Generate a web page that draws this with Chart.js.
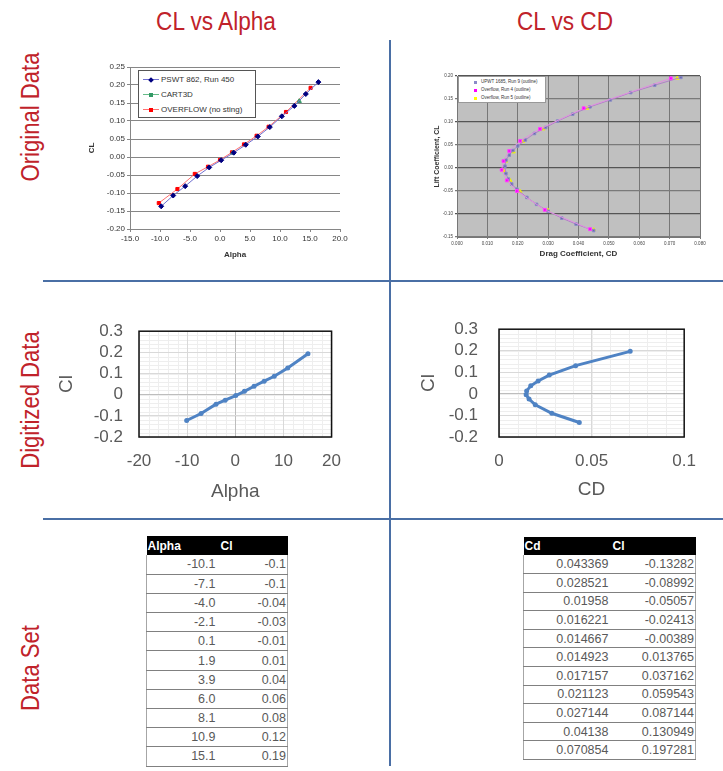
<!DOCTYPE html>
<html>
<head>
<meta charset="utf-8">
<script src="https://cdn.jsdelivr.net/npm/chart.js@4.4.1/dist/chart.umd.min.js"></script>
<style>
    body { margin: 0; width: 723px; height: 771px; background: #fff; position: relative; overflow: hidden; font-family: "Liberation Sans", Arial, sans-serif; }
    .head { position: absolute; color: #c0222a; font-size: 26px; white-space: nowrap; line-height: 1; }
    .side { position: absolute; color: #c0222a; font-size: 26px; white-space: nowrap; line-height: 1; }
    .rule { position: absolute; background: #4a6fa5; }
    .box { position: absolute; }
    .legend { position: absolute; background: #fff; border: 1px solid #555; box-sizing: border-box; color: #333; }
    .legend div { position: absolute; white-space: nowrap; }
    .legend i { position: absolute; display: block; }
    table { position: absolute; border-collapse: collapse; font-size: 12.5px; color: #595959; }
    th { background: #000; color: #fff; font-weight: bold; text-align: left; font-size: 12px; padding: 0 0 0 1px; }
    td { text-align: right; border-bottom: 1px solid #808080; padding: 0; }
    tr td:first-child { border-left: 1px solid #a6a6a6; }
    tr td:last-child { border-right: 1px solid #a6a6a6; }
</style>
</head>
<body>

<div class="head" style="left:216px;top:8px;transform:translateX(-50%) scaleX(0.87)">CL vs Alpha</div>
<div class="head" style="left:565px;top:8px;transform:translateX(-50%) scaleX(0.87)">CL vs CD</div>

<div class="side" style="left:30px;top:117px;transform:translate(-50%,-50%) rotate(-90deg) scaleX(0.85)">Original Data</div>
<div class="side" style="left:30px;top:400px;transform:translate(-50%,-50%) rotate(-90deg) scaleX(0.85)">Digitized Data</div>
<div class="side" style="left:30px;top:668px;transform:translate(-50%,-50%) rotate(-90deg) scaleX(0.85)">Data Set</div>

<div class="rule" style="left:389px;top:40px;width:2px;height:726px"></div>
<div class="rule" style="left:43px;top:280px;width:680px;height:2px"></div>
<div class="rule" style="left:43px;top:518px;width:680px;height:2px"></div>

<div class="box" style="left:80px;top:55px"><canvas id="origAlpha" width="280" height="215"></canvas></div>
<div class="box" style="left:420px;top:62px"><canvas id="origCd" width="303" height="212"></canvas></div>
<div class="box" style="left:55px;top:305px"><canvas id="digAlpha" width="300" height="200"></canvas></div>
<div class="box" style="left:410px;top:298px"><canvas id="digCd" width="300" height="210"></canvas></div>

<div class="legend" id="legendAlpha" style="left:138px;top:70px;width:118px;height:48px;font-size:8px"></div>
<div class="legend" id="legendCd" style="left:458px;top:76px;width:88px;height:27px;font-size:4.5px;border-color:#999"></div>

<table id="tableAlpha" style="left:146px;top:536px;width:142px"></table>
<table id="tableCd" style="left:523px;top:537px;width:173px"></table>

<script>
// --- Original data, CL vs Alpha ---
const pswtAlpha = [-9.8, -7.8, -5.8, -3.8, -1.8, 0.2, 2.3, 4.3, 6.3, 8.3, 10.3, 12.4, 14.3, 16.4];
const pswtCl = [-0.137, -0.107, -0.081, -0.053, -0.029, -0.009, 0.012, 0.034, 0.057, 0.083, 0.113, 0.142, 0.175, 0.208];
const cart3dAlpha = [2.1, 13.2];
const cart3dCl = [0.011, 0.155];
const overflowAlpha = [-10.2, -7.1, -4.2, -2.0, 0.0, 2.0, 4.0, 6.1, 8.1, 11.0, 15.1];
const overflowCl = [-0.128, -0.089, -0.047, -0.027, -0.008, 0.013, 0.035, 0.059, 0.084, 0.125, 0.192];

// --- Original data, CL vs CD ---
const upwtCd = [0.0450, 0.0392, 0.0345, 0.0300, 0.0262, 0.0230, 0.0197, 0.0180, 0.0169, 0.0161, 0.0158, 0.0161, 0.0172, 0.0184, 0.0200, 0.0225, 0.0255, 0.0292, 0.0331, 0.0381, 0.0438, 0.0505, 0.0572, 0.0651, 0.0737];
const upwtCl = [-0.136, -0.122, -0.109, -0.094, -0.079, -0.064, -0.046, -0.035, -0.024, -0.012, 0.004, 0.017, 0.028, 0.038, 0.048, 0.061, 0.075, 0.088, 0.102, 0.117, 0.133, 0.148, 0.164, 0.180, 0.197];
const run4Cd = [0.0704, 0.0417, 0.0273, 0.0208, 0.0172, 0.0153, 0.0147, 0.0164, 0.0197, 0.0289, 0.0438];
const run4Cl = [0.195, 0.130, 0.085, 0.059, 0.037, 0.015, -0.004, -0.027, -0.050, -0.091, -0.133];
const run5Cd = [0.0725, 0.0428, 0.0284, 0.0217, 0.0186, 0.0161, 0.0153, 0.0175, 0.0208, 0.0300, 0.0450];
const run5Cl = [0.195, 0.130, 0.085, 0.058, 0.035, 0.015, -0.006, -0.027, -0.051, -0.092, -0.134];

const alphaSet = [-10.1, -7.1, -4.0, -2.1, 0.1, 1.9, 3.9, 6.0, 8.1, 10.9, 15.1];
const clAlphaSet = [-0.1, -0.1, -0.04, -0.03, -0.01, 0.01, 0.04, 0.06, 0.08, 0.12, 0.19];
const clAlphaLine = [-0.122, -0.089, -0.045, -0.026, -0.004, 0.016, 0.040, 0.064, 0.087, 0.126, 0.193];
const cdSet = [0.043369, 0.028521, 0.01958, 0.016221, 0.014667, 0.014923, 0.017157, 0.021123, 0.027144, 0.04138, 0.070854];
const clCdSet = [-0.13282, -0.08992, -0.05057, -0.02413, -0.00389, 0.013765, 0.037162, 0.059543, 0.087144, 0.130949, 0.197281];

const pts = (xs, ys) => xs.map((x, i) => ({ x: x, y: ys[i] }));
const fixW = w => s => { s.width = w; };
const fixH = h => s => { s.height = h; };
const trim = v => String(+v.toFixed(3));

Chart.defaults.font.family = "'Liberation Sans', Arial, sans-serif";
Chart.defaults.animation = false;

// fills plot area / draws light minor grid lines through the scales
const plotBack = {
    id: 'plotBack',
    beforeDraw(chart, args, opts) {
        const { ctx, chartArea: a, scales } = chart;
        ctx.save();
        if (opts.fill) {
            ctx.fillStyle = opts.fill;
            ctx.fillRect(a.left, a.top, a.right - a.left, a.bottom - a.top);
        }
        if (opts.xStep) {
            ctx.strokeStyle = opts.minor;
            ctx.lineWidth = 1;
            ctx.beginPath();
            const x = scales.x, y = scales.y;
            for (let v = x.min; v <= x.max + 1e-9; v += opts.xStep) {
                const p = Math.round(x.getPixelForValue(v)) + 0.5;
                ctx.moveTo(p, a.top); ctx.lineTo(p, a.bottom);
            }
            for (let v = y.min; v <= y.max + 1e-9; v += opts.yStep) {
                const p = Math.round(y.getPixelForValue(v)) + 0.5;
                ctx.moveTo(a.left, p); ctx.lineTo(a.right, p);
            }
            ctx.stroke();
        }
        ctx.restore();
    },
    afterDraw(chart, args, opts) {
        if (!opts.frame) return;
        const { ctx, chartArea: a } = chart;
        ctx.save();
        ctx.strokeStyle = opts.frame;
        ctx.lineWidth = 1.5;
        ctx.strokeRect(a.left, a.top, a.right - a.left, a.bottom - a.top);
        ctx.restore();
    }
};

// Chart 1: original CL vs Alpha
new Chart(document.getElementById('origAlpha'), {
    type: 'scatter',
    data: {
        datasets: [
            { label: 'PSWT 862, Run 450', data: pts(pswtAlpha, pswtCl), showLine: true, borderColor: '#7070d0', borderWidth: 1, pointStyle: 'rectRot', pointRadius: 2.5, pointBackgroundColor: '#000080', pointBorderColor: '#000080' },
            { label: 'CART3D', data: pts(cart3dAlpha, cart3dCl), showLine: false, pointStyle: 'triangle', pointRadius: 2.5, pointBackgroundColor: '#339966', pointBorderColor: '#339966' },
            { label: 'OVERFLOW (no sting)', data: pts(overflowAlpha, overflowCl), showLine: true, borderColor: '#ff7070', borderWidth: 1, pointStyle: 'rect', pointRadius: 2.2, pointBackgroundColor: '#ff0000', pointBorderColor: '#ff0000' }
        ]
    },
    options: {
        responsive: false,
        layout: { padding: { top: 12, right: 20, left: 0, bottom: 0 } },
        plugins: { legend: { display: false }, tooltip: { enabled: false } },
        scales: {
            x: {
                min: -15, max: 20,
                ticks: { stepSize: 5, autoSkip: false, font: { size: 8 }, color: '#333', padding: 2, callback: v => v.toFixed(1) },
                grid: { drawOnChartArea: false, tickLength: 3, color: '#868686' },
                border: { color: '#868686' },
                title: { display: true, text: 'Alpha', font: { size: 8, weight: 'bold' }, color: '#333', padding: { top: 0, bottom: 10 } },
                afterFit: fixH(41)
            },
            y: {
                min: -0.2, max: 0.25,
                ticks: { stepSize: 0.05, autoSkip: false, font: { size: 8 }, color: '#333', padding: 2, callback: v => v.toFixed(2) },
                grid: { color: '#868686', tickLength: 3 },
                border: { color: '#868686' },
                title: { display: true, text: 'CL', font: { size: 8, weight: 'bold' }, color: '#333', padding: { top: 7, bottom: 0 } },
                afterFit: fixW(50)
            }
        }
    }
});

// Chart 2: original CL vs CD
new Chart(document.getElementById('origCd'), {
    type: 'scatter',
    data: {
        datasets: [
            { label: 'UPWT 1685, Run 9 (outline)', data: pts(upwtCd, upwtCl), showLine: true, borderColor: '#b080c8', borderWidth: 1, pointStyle: 'rect', pointRadius: 1.8, pointBackgroundColor: '#6a6aaa', pointBorderColor: '#8a8ac8', order: 2 },
            { label: 'Overflow, Run 4 (outline)', data: pts(run4Cd, run4Cl), showLine: true, borderColor: '#e090e0', borderWidth: 1, pointStyle: 'rect', pointRadius: 2, pointBackgroundColor: '#ff00ff', pointBorderColor: '#ff40ff', order: 1 },
            { label: 'Overflow, Run 5 (outline)', data: pts(run5Cd, run5Cl), showLine: false, pointStyle: 'triangle', pointRadius: 2, pointBackgroundColor: '#ffff00', pointBorderColor: '#f0f000', order: 3 }
        ]
    },
    options: {
        responsive: false,
        layout: { padding: { top: 14, right: 23, left: 0, bottom: 0 } },
        plugins: { legend: { display: false }, tooltip: { enabled: false }, plotBack: { fill: '#c0c0c0' } },
        scales: {
            x: {
                min: 0, max: 0.08,
                ticks: { stepSize: 0.01, autoSkip: false, font: { size: 4.5 }, color: '#444', padding: 2, callback: v => v.toFixed(3) },
                grid: { color: '#777', tickLength: 2 },
                border: { color: '#777' },
                title: { display: true, text: 'Drag Coefficient, CD', font: { size: 8, weight: 'bold' }, color: '#333', padding: { top: 0, bottom: 15 } },
                afterFit: fixH(37)
            },
            y: {
                min: -0.15, max: 0.2,
                ticks: { stepSize: 0.05, autoSkip: false, font: { size: 4.5 }, color: '#444', padding: 2, callback: v => v.toFixed(2) },
                grid: { color: ctx => Math.abs(ctx.tick.value * 10 - Math.round(ctx.tick.value * 10)) < 1e-6 ? '#555' : '#7a7a7a', lineWidth: 1.2, tickLength: 2 },
                border: { color: '#777' },
                title: { display: true, text: 'Lift Coefficient, CL', font: { size: 7, weight: 'bold' }, color: '#333', padding: { top: 13, bottom: 0 } },
                afterFit: fixW(37)
            }
        }
    },
    plugins: [plotBack]
});

const digitizedScales = (xo, yo) => ({
    x: Object.assign({
        grid: { color: c => c.tick.value === 0 ? '#bdbdbd' : '#d9d9d9', drawTicks: false },
        border: { display: false },
    }, xo),
    y: Object.assign({
        min: -0.2, max: 0.3,
        grid: { color: c => Math.abs(c.tick.value) < 1e-9 ? '#bdbdbd' : '#d9d9d9', drawTicks: false },
        border: { display: false },
    }, yo)
});

// Chart 3: digitized CL vs Alpha
new Chart(document.getElementById('digAlpha'), {
    type: 'scatter',
    data: {
        datasets: [{ data: pts(alphaSet, clAlphaLine), showLine: true, borderColor: '#4f83c4', borderWidth: 3, pointRadius: 1, pointBackgroundColor: '#4f83c4', pointBorderColor: '#4f83c4' }]
    },
    options: {
        responsive: false,
        layout: { padding: { top: 17, right: 16, left: 0, bottom: 0 } },
        plugins: { legend: { display: false }, tooltip: { enabled: false }, plotBack: { xStep: 2, yStep: 0.02, minor: '#eeeeee', frame: '#111' } },
        scales: digitizedScales(
            { min: -20, max: 20, ticks: { stepSize: 10, autoSkip: false, font: { size: 17 }, color: '#595959', padding: 14, callback: trim },
              title: { display: true, text: 'Alpha', font: { size: 19 }, color: '#595959', padding: { top: 0, bottom: 2 } }, afterFit: fixH(68) },
            { ticks: { stepSize: 0.1, autoSkip: false, font: { size: 17 }, color: '#595959', padding: 16, callback: trim },
              title: { display: true, text: 'Cl', font: { size: 19 }, color: '#595959', padding: { top: 0, bottom: 0 } }, afterFit: fixW(84) }
        )
    },
    plugins: [plotBack]
});

// Chart 4: digitized CL vs CD
new Chart(document.getElementById('digCd'), {
    type: 'scatter',
    data: {
        datasets: [{ data: pts(cdSet, clCdSet), showLine: true, borderColor: '#4f83c4', borderWidth: 3, pointRadius: 1, pointBackgroundColor: '#4f83c4', pointBorderColor: '#4f83c4' }]
    },
    options: {
        responsive: false,
        layout: { padding: { top: 15, right: 15, left: 0, bottom: 0 } },
        plugins: { legend: { display: false }, tooltip: { enabled: false }, plotBack: { xStep: 0.01, yStep: 0.02, minor: '#eeeeee', frame: '#111' } },
        scales: digitizedScales(
            { min: 0, max: 0.1, ticks: { stepSize: 0.05, autoSkip: false, font: { size: 17 }, color: '#595959', padding: 14, callback: trim },
              title: { display: true, text: 'CD', font: { size: 19 }, color: '#595959', padding: { top: 0, bottom: 7 } }, afterFit: fixH(71) },
            { ticks: { stepSize: 0.1, autoSkip: false, font: { size: 17 }, color: '#595959', padding: 21, callback: trim },
              title: { display: true, text: 'Cl', font: { size: 19 }, color: '#595959', padding: { top: 7, bottom: 0 } }, afterFit: fixW(89) }
        )
    },
    plugins: [plotBack]
});

// HTML legends inside the original charts
function buildLegend(id, items, rowH, top, markX, textX) {
    const el = document.getElementById(id);
    items.forEach((it, i) => {
        const y = top + i * rowH;
        el.insertAdjacentHTML('beforeend',
            `<i style="left:${markX - 8}px;top:${y}px;width:16px;height:1px;background:${it.line}"></i>` +
            `<i style="left:${markX - it.size / 2}px;top:${y - it.size / 2 + 0.5}px;width:${it.size}px;height:${it.size}px;background:${it.color};${it.rot ? 'transform:rotate(45deg)' : ''}"></i>` +
            `<div style="left:${textX}px;top:${y - rowH / 2}px;line-height:${rowH}px">${it.text}</div>`);
    });
}
buildLegend('legendAlpha', [
    { text: 'PSWT 862, Run 450', line: '#7070d0', color: '#000080', size: 4, rot: true },
    { text: 'CART3D', line: '#66bb88', color: '#339966', size: 4 },
    { text: 'OVERFLOW (no sting)', line: '#ff7070', color: '#ff0000', size: 4 }
], 15, 8, 12, 22);
buildLegend('legendCd', [
    { text: 'UPWT 1685, Run 9 (outline)', line: 'transparent', color: '#8a8ac8', size: 3 },
    { text: 'Overflow, Run 4 (outline)', line: 'transparent', color: '#ff00ff', size: 3 },
    { text: 'Overflow, Run 5 (outline)', line: 'transparent', color: '#ffff00', size: 3 }
], 8, 4.5, 16, 22);

// Data set tables
function buildTable(id, heads, colA, colB, fmtA, rowH, headH, colW) {
    const t = document.getElementById(id);
    let html = `<tr style="height:${headH}px"><th style="width:${colW[0]}px">${heads[0]}</th><th style="width:${colW[1]}px">${heads[1]}</th></tr>`;
    colA.forEach((a, i) => {
        html += `<tr style="height:${rowH}px"><td style="padding-right:${colW[2]}px">${fmtA(a)}</td><td style="padding-right:1px">${colB[i]}</td></tr>`;
    });
    t.innerHTML = html;
}
buildTable('tableAlpha', ['Alpha', 'Cl'], alphaSet, clAlphaSet, v => v.toFixed(1), 19.2, 19, [73, 68, 4]);
buildTable('tableCd', ['Cd', 'Cl'], cdSet, clCdSet, v => String(v), 18.6, 18, [88, 84, 3]);
</script>
</body>
</html>
